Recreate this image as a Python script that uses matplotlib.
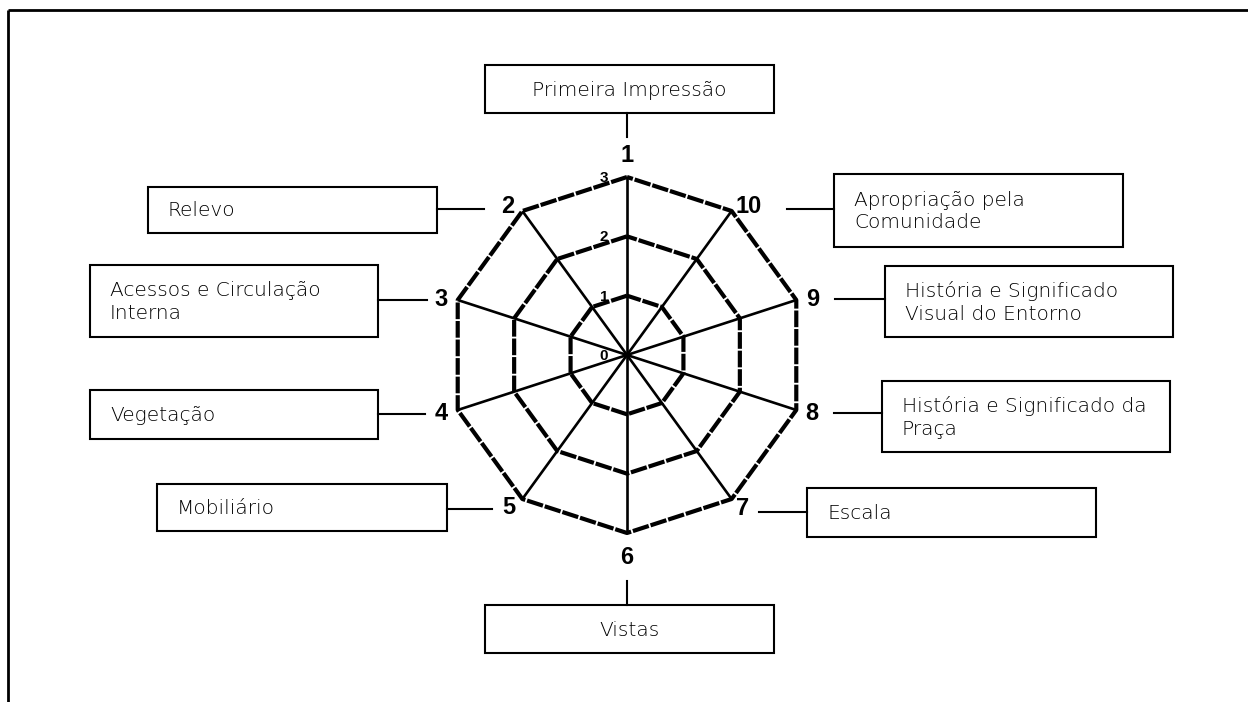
import numpy as np
import matplotlib
matplotlib.use("Agg")
import matplotlib.pyplot as plt
from matplotlib.patches import Rectangle

# ---- data ----
axis_numbers = ["1", "2", "3", "4", "5", "6", "7", "8", "9", "10"]
axis_names = [
    "Primeira Impressão",
    "Relevo",
    "Acessos e Circulação\nInterna",
    "Vegetação",
    "Mobiliário",
    "Vistas",
    "Escala",
    "História e Significado da\nPraça",
    "História e Significado\nVisual do Entorno",
    "Apropriação pela\nComunidade",
]
levels = [1, 2, 3]
tick_labels = ["0", "1", "2", "3"]

# ---- layout (pixels) ----
W, H = 1248, 702
cx, cy = 627, 355
unit = 178 / 3.0

fig = plt.figure(figsize=(W / 100, H / 100), dpi=100)
ax = fig.add_axes([0, 0, 1, 1])
ax.set_xlim(0, W)
ax.set_ylim(H, 0)
ax.axis("off")

n = len(axis_numbers)
theta = np.array([k * 2 * np.pi / n for k in range(n)])
dirx = -np.sin(theta)
diry = -np.cos(theta)

# spokes
rmax = max(levels) * unit
for k in range(n):
    ax.plot([cx, cx + rmax * dirx[k]], [cy, cy + rmax * diry[k]],
            color="black", lw=1.9, solid_capstyle="butt", zorder=2)

# dashed rings
for lv in levels:
    r = lv * unit
    xs = np.append(cx + r * dirx, cx + r * dirx[0])
    ys = np.append(cy + r * diry, cy + r * diry[0])
    ax.plot(xs, ys, color="black", lw=3.0, linestyle=(0, (4, 0.45)),
            solid_joinstyle="miter", zorder=3)

# tick labels along axis 1
for i, t in enumerate(tick_labels):
    ax.text(cx - 23, cy - i * unit + 1, t, ha="center", va="center",
            fontsize=11, fontweight="bold", family="Liberation Sans", zorder=4)

# vertex numbers
num_off = [(0, -21), (-15, -4), (-17, 0), (-17, 3), (-14, 8),
           (0, 25), (11, 9), (16, 3), (16, 0), (17, -4)]
for k in range(n):
    vx = cx + rmax * dirx[k]
    vy = cy + rmax * diry[k]
    ax.text(vx + num_off[k][0], vy + num_off[k][1], axis_numbers[k],
            ha="center", va="center", fontsize=17, fontweight="heavy",
            family="Liberation Sans", zorder=4)

# boxes: (x0, y0, x1, y1), text alignment, connector (x0, y0, x1, y1)
boxes = [
    ((485, 65, 774, 113), "center", (627, 113, 627, 137)),
    ((148, 187, 437, 233), "left", (437, 209, 484, 209)),
    ((90, 265, 378, 337), "left", (378, 300, 427, 300)),
    ((90, 390, 378, 439), "left", (378, 414, 425, 414)),
    ((157, 484, 447, 531), "left", (447, 509, 492, 509)),
    ((485, 605, 774, 653), "center", (627, 581, 627, 605)),
    ((807, 488, 1096, 537), "left", (759, 512, 807, 512)),
    ((882, 381, 1170, 452), "left", (834, 413, 882, 413)),
    ((885, 266, 1173, 337), "left", (835, 299, 885, 299)),
    ((834, 174, 1123, 247), "left", (787, 209, 834, 209)),
]
for k, ((x0, y0, x1, y1), align, (lx0, ly0, lx1, ly1)) in enumerate(boxes):
    ax.add_patch(Rectangle((x0, y0), x1 - x0, y1 - y0, fill=False,
                           edgecolor="black", lw=1.5, zorder=2))
    ax.plot([lx0, lx1], [ly0, ly1], color="black", lw=1.5, zorder=2)
    if align == "center":
        tx, ha = (x0 + x1) / 2, "center"
    else:
        tx, ha = x0 + 20, "left"
    ax.text(tx, (y0 + y1) / 2 + 1, axis_names[k], ha=ha, va="center",
            fontsize=14.5, color="black", family="DejaVu Sans",
            fontweight="light", linespacing=1.25, zorder=4)

# outer frame (top and left edges)
ax.plot([8, W], [10, 10], color="black", lw=2, solid_capstyle="butt")
ax.plot([8, 8], [10, H], color="black", lw=2, solid_capstyle="butt")

fig.savefig("out.png", dpi=100)
